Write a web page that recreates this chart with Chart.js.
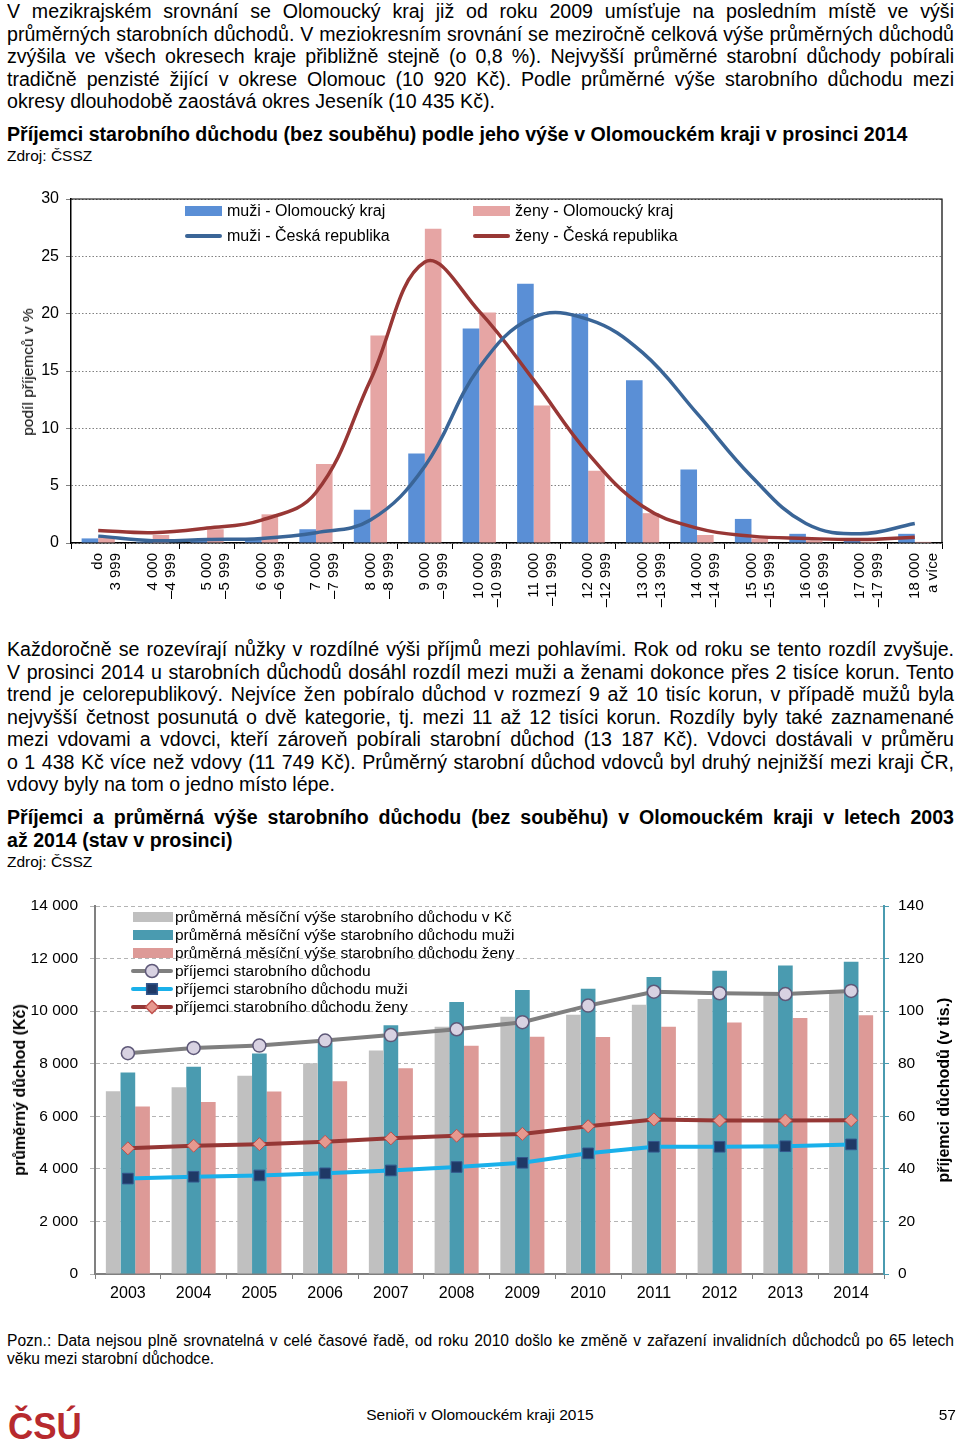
<!DOCTYPE html>
<html lang="cs">
<head>
<meta charset="UTF-8">
<title>Senioři v Olomouckém kraji 2015</title>
<script src="https://cdn.jsdelivr.net/npm/chart.js"></script>
<style>
    body {
        margin: 0;
        width: 960px;
        height: 1455px;
        position: relative;
        overflow: hidden;
        background: #fff;
        color: #000;
        font-family: "Liberation Sans", Arial, sans-serif;
    }

    .txt {
        position: absolute;
        left: 7px;
        width: 947px;
        font-size: 19.6px;
        line-height: 22.5px;
    }

    .txt span {
        display: block;
        text-align: justify;
        text-align-last: justify;
    }

    .txt span.last {
        text-align-last: left;
    }

    .bold {
        font-weight: bold;
        line-height: 23px;
    }

    .src {
        position: absolute;
        left: 7px;
        font-size: 15.5px;
    }

    .box {
        position: absolute;
        left: 0;
        width: 960px;
    }

    .rot {
        position: absolute;
        white-space: nowrap;
        transform: translate(-50%, -50%) rotate(-90deg);
    }

    .note {
        position: absolute;
        left: 7px;
        width: 947px;
        font-size: 15.6px;
        line-height: 18px;
    }

    .note span {
        display: block;
        text-align: justify;
        text-align-last: justify;
    }

    .note span.last {
        text-align-last: left;
    }

    .logo {
        position: absolute;
        left: 8px;
        top: 1406px;
        font-size: 36px;
        line-height: normal;
        font-weight: bold;
        color: #b72a2e;
        transform: scaleX(0.97);
        transform-origin: left top;
    }
</style>
</head>

<body>
    <div class="txt" style="top:0px">
        <span>V mezikrajském srovnání se Olomoucký kraj již od roku 2009 umísťuje na posledním místě ve výši</span>
        <span>průměrných starobních důchodů. V meziokresním srovnání se meziročně celková výše průměrných důchodů</span>
        <span>zvýšila ve všech okresech kraje přibližně stejně (o 0,8 %). Nejvyšší průměrné starobní důchody pobírali</span>
        <span>tradičně penzisté žijící v okrese Olomouc (10 920 Kč). Podle průměrné výše starobního důchodu mezi</span>
        <span class="last">okresy dlouhodobě zaostává okres Jeseník (10 435 Kč).</span>
    </div>

    <div class="txt bold" style="top:123px">
        <span class="last">Příjemci starobního důchodu (bez souběhu) podle jeho výše v Olomouckém kraji v prosinci 2014</span>
    </div>
    <div class="src" style="top:147px">Zdroj: ČSSZ</div>

    <div class="box" style="top:180px;height:430px"><canvas id="chart1"></canvas></div>
    <div class="rot" style="left:28px;top:372px;font-size:15.5px">podíl příjemců v %</div>

    <div class="txt" style="top:638px">
        <span>Každoročně se rozevírají nůžky v rozdílné výši příjmů mezi pohlavími. Rok od roku se tento rozdíl zvyšuje.</span>
        <span>V prosinci 2014 u starobních důchodů dosáhl rozdíl mezi muži a ženami dokonce přes 2 tisíce korun. Tento</span>
        <span>trend je celorepublikový. Nejvíce žen pobíralo důchod v rozmezí 9 až 10 tisíc korun, v případě mužů byla</span>
        <span>nejvyšší četnost posunutá o dvě kategorie, tj. mezi 11 až 12 tisíci korun. Rozdíly byly také zaznamenané</span>
        <span>mezi vdovami a vdovci, kteří zároveň pobírali starobní důchod (13 187 Kč). Vdovci dostávali v průměru</span>
        <span>o 1 438 Kč více než vdovy (11 749 Kč). Průměrný starobní důchod vdovců byl druhý nejnižší mezi kraji ČR,</span>
        <span class="last">vdovy byly na tom o jedno místo lépe.</span>
    </div>

    <div class="txt bold" style="top:806px">
        <span>Příjemci a průměrná výše starobního důchodu (bez souběhu) v Olomouckém kraji v letech 2003</span>
        <span class="last">až 2014 (stav v prosinci)</span>
    </div>
    <div class="src" style="top:853px">Zdroj: ČSSZ</div>

    <div class="box" style="top:890px;height:420px"><canvas id="chart2"></canvas></div>
    <div class="rot" style="left:20px;top:1090px;font-size:16px;font-weight:bold">průměrný důchod (Kč)</div>
    <div class="rot" style="left:944px;top:1090px;font-size:16px;font-weight:bold">příjemci důchodů (v tis.)</div>

    <div class="note" style="top:1332px">
        <span>Pozn.: Data nejsou plně srovnatelná v celé časové řadě, od roku 2010 došlo ke změně v zařazení invalidních důchodců po 65 letech</span>
        <span class="last">věku mezi starobní důchodce.</span>
    </div>

    <div class="logo">ČSÚ</div>
    <div style="position:absolute;top:1406px;left:0;width:960px;text-align:center;font-size:15.5px">Senioři v Olomouckém kraji 2015</div>
    <div style="position:absolute;top:1406px;right:4px;font-size:15.5px">57</div>

    <script>
        // graf 1 - rozdělení příjemců podle výše důchodu (%)
        const incomeBands = [
            ['do', '3 999'], ['4 000', '–4 999'], ['5 000', '–5 999'], ['6 000', '–6 999'],
            ['7 000', '–7 999'], ['8 000', '–8 999'], ['9 000', '–9 999'], ['10 000', '–10 999'],
            ['11 000', '–11 999'], ['12 000', '–12 999'], ['13 000', '–13 999'], ['14 000', '–14 999'],
            ['15 000', '–15 999'], ['16 000', '–16 999'], ['17 000', '–17 999'], ['18 000', 'a více']
        ];
        const menOlomouc = [0.4, 0.1, 0.2, 0.4, 1.2, 2.9, 7.8, 18.7, 22.6, 20.0, 14.2, 6.4, 2.1, 0.8, 0.2, 0.8];
        const womenOlomouc = [0.5, 0.7, 1.2, 2.5, 6.9, 18.1, 27.4, 20.1, 12.0, 6.3, 2.6, 0.7, 0.4, 0.2, 0.1, 0.1];
        const menCR = [0.6, 0.2, 0.3, 0.4, 0.9, 2.0, 6.7, 15.3, 19.7, 19.5, 16.6, 11.3, 5.8, 1.7, 0.8, 1.7];
        const womenCR = [1.1, 0.9, 1.3, 2.0, 4.4, 14.2, 24.5, 20.2, 14.2, 7.8, 3.2, 1.3, 0.6, 0.4, 0.3, 0.5];

        // graf 2 - vývoj 2003-2014
        const years = ['2003', '2004', '2005', '2006', '2007', '2008', '2009', '2010', '2011', '2012', '2013', '2014'];
        const avgPension = [6950, 7100, 7540, 8020, 8500, 9410, 9790, 9860, 10240, 10460, 10650, 10800];
        const avgPensionMen = [7670, 7880, 8390, 8870, 9460, 10350, 10800, 10850, 11300, 11540, 11740, 11880];
        const avgPensionWomen = [6370, 6540, 6940, 7330, 7830, 8680, 9030, 9020, 9410, 9570, 9740, 9840];
        const recipients = [84.0, 86.0, 86.9, 88.8, 90.9, 93.1, 95.8, 102.1, 107.4, 106.8, 106.5, 107.7];
        const recipientsMen = [36.3, 37.0, 37.5, 38.3, 39.4, 40.7, 42.3, 45.9, 48.4, 48.4, 48.6, 49.3];
        const recipientsWomen = [47.8, 48.8, 49.4, 50.3, 51.6, 52.6, 53.3, 56.2, 58.8, 58.4, 58.4, 58.5];

        const FONT = '"Liberation Sans", Arial, sans-serif';
        const fmt = v => String(v).replace(/\B(?=(\d{3})+(?!\d))/g, ' ');

        // legenda kreslena primo do grafu
        function drawLegend(chart, items) {
            const ctx = chart.ctx;
            ctx.save();
            items.forEach(it => {
                if (it.kind === 'bar') {
                    ctx.fillStyle = it.color;
                    ctx.fillRect(it.x, it.y - 5, it.w, 10);
                } else {
                    ctx.strokeStyle = it.color;
                    ctx.lineWidth = 4;
                    ctx.lineCap = 'round';
                    ctx.beginPath();
                    ctx.moveTo(it.x + 2, it.y);
                    ctx.lineTo(it.x + it.w - 2, it.y);
                    ctx.stroke();
                    if (it.point) {
                        ctx.fillStyle = it.point.bg;
                        ctx.strokeStyle = it.point.border;
                        ctx.lineWidth = 1.5;
                        Chart.helpers.drawPoint(ctx, { pointStyle: it.point.style, radius: it.point.r, rotation: 0, borderWidth: 1.5 }, it.x + it.w / 2, it.y);
                    }
                }
                ctx.fillStyle = '#000';
                ctx.font = it.font;
                ctx.textBaseline = 'middle';
                ctx.fillText(it.text, it.tx, it.y + 1);
            });
            ctx.restore();
        }

        const chart1 = new Chart(document.getElementById('chart1'), {
            type: 'bar',
            data: {
                labels: incomeBands,
                datasets: [
                    { type: 'line', label: 'muži - Česká republika', data: menCR, borderColor: '#3a6597', borderWidth: 3.5, pointRadius: 0, tension: 0.4, order: 0 },
                    { type: 'line', label: 'ženy - Česká republika', data: womenCR, borderColor: '#983735', borderWidth: 3.5, pointRadius: 0, tension: 0.4, order: 0 },
                    { label: 'muži - Olomoucký kraj', data: menOlomouc, backgroundColor: '#5a8fd6', order: 1 },
                    { label: 'ženy - Olomoucký kraj', data: womenOlomouc, backgroundColor: '#e6a5a4', order: 1 }
                ]
            },
            options: {
                responsive: true,
                maintainAspectRatio: false,
                animation: false,
                layout: { padding: { top: 19, right: 18, bottom: 0, left: 0 } },
                datasets: { bar: { categoryPercentage: 0.61, barPercentage: 1.0 } },
                plugins: { legend: { display: false }, tooltip: { enabled: false } },
                scales: {
                    x: {
                        grid: { drawOnChartArea: false, tickLength: 6, color: '#000' },
                        border: { color: '#000', width: 1.5 },
                        ticks: {
                            autoSkip: false, maxRotation: 90, minRotation: 90, padding: 4,
                            color: '#000', font: { family: FONT, size: 15 }
                        },
                        afterFit: s => { s.height = 67; }
                    },
                    y: {
                        min: 0, max: 30,
                        grid: { color: '#808080', tickLength: 5, lineWidth: 1 },
                        border: { color: '#000', width: 1.5, dash: [1.5, 2] },
                        ticks: { stepSize: 5, padding: 7, color: '#000', font: { family: FONT, size: 16 } },
                        afterFit: s => { s.width = 71; s.paddingTop = 0; }
                    }
                }
            },
            plugins: [{
                id: 'frameLegend1',
                afterDraw(chart) {
                    const { ctx, chartArea: a } = chart;
                    ctx.save();
                    ctx.strokeStyle = '#000';
                    ctx.lineWidth = 1.2;
                    ctx.beginPath();
                    ctx.moveTo(a.left, a.top);
                    ctx.lineTo(a.right, a.top);
                    ctx.lineTo(a.right, a.bottom);
                    ctx.stroke();
                    ctx.restore();
                    const f = '16px ' + FONT;
                    drawLegend(chart, [
                        { kind: 'bar', color: '#5a8fd6', x: 185, w: 37, y: 31, tx: 227, text: 'muži - Olomoucký kraj', font: f },
                        { kind: 'line', color: '#3a6597', x: 185, w: 37, y: 56, tx: 227, text: 'muži - Česká republika', font: f },
                        { kind: 'bar', color: '#e6a5a4', x: 473, w: 37, y: 31, tx: 515, text: 'ženy - Olomoucký kraj', font: f },
                        { kind: 'line', color: '#983735', x: 473, w: 37, y: 56, tx: 515, text: 'ženy - Česká republika', font: f }
                    ]);
                }
            }]
        });

        const totalPt = { style: 'circle', r: 6.5, bg: '#d8d2e2', border: '#5e5878' };
        const menPt = { style: 'rect', r: 7.5, bg: '#1f3966', border: '#33568c' };
        const womenPt = { style: 'rectRot', r: 6.5, bg: '#e6998f', border: '#c0504d' };

        const chart2 = new Chart(document.getElementById('chart2'), {
            type: 'bar',
            data: {
                labels: years,
                datasets: [
                    {
                        type: 'line', label: 'příjemci starobního důchodu', data: recipients, yAxisID: 'y1',
                        borderColor: '#7f7f7f', borderWidth: 4, pointStyle: totalPt.style, pointRadius: totalPt.r,
                        pointBackgroundColor: totalPt.bg, pointBorderColor: totalPt.border, pointBorderWidth: 1.5, order: 0
                    },
                    {
                        type: 'line', label: 'příjemci starobního důchodu muži', data: recipientsMen, yAxisID: 'y1',
                        borderColor: '#19b0ea', borderWidth: 4, pointStyle: menPt.style, pointRadius: menPt.r,
                        pointBackgroundColor: menPt.bg, pointBorderColor: menPt.border, pointBorderWidth: 1, order: 0
                    },
                    {
                        type: 'line', label: 'příjemci starobního důchodu ženy', data: recipientsWomen, yAxisID: 'y1',
                        borderColor: '#953735', borderWidth: 4, pointStyle: womenPt.style, pointRadius: womenPt.r,
                        pointBackgroundColor: womenPt.bg, pointBorderColor: womenPt.border, pointBorderWidth: 1, order: 0
                    },
                    { label: 'průměrná měsíční výše starobního důchodu v Kč', data: avgPension, backgroundColor: '#c0c0c0', order: 1 },
                    { label: 'průměrná měsíční výše starobního důchodu muži', data: avgPensionMen, backgroundColor: '#4a9bb0', order: 1 },
                    { label: 'průměrná měsíční výše starobního důchodu ženy', data: avgPensionWomen, backgroundColor: '#dd9a97', order: 1 }
                ]
            },
            options: {
                responsive: true,
                maintainAspectRatio: false,
                animation: false,
                layout: { padding: { top: 16, right: 0, bottom: 0, left: 0 } },
                datasets: { bar: { categoryPercentage: 0.67, barPercentage: 1.0 } },
                plugins: { legend: { display: false }, tooltip: { enabled: false } },
                scales: {
                    x: {
                        grid: { drawOnChartArea: false, tickLength: 5, color: '#808080' },
                        border: { color: '#808080', width: 2 },
                        ticks: { padding: 5, color: '#000', font: { family: FONT, size: 16 } },
                        afterFit: s => { s.height = 36; }
                    },
                    y: {
                        position: 'left',
                        min: 0, max: 14000,
                        grid: { color: '#b4b4b4', tickLength: 5, lineWidth: 1 },
                        border: { color: '#808080', width: 2, dash: [4, 3] },
                        ticks: { stepSize: 2000, padding: 12, color: '#000', font: { family: FONT, size: 15.5 }, callback: v => fmt(v) },
                        afterFit: s => { s.width = 95; s.paddingTop = 0; s.paddingBottom = 0; }
                    },
                    y1: {
                        position: 'right',
                        min: 0, max: 140,
                        grid: { drawOnChartArea: false, tickLength: 5, color: '#4a9bb0' },
                        border: { color: '#4a9bb0', width: 2 },
                        ticks: { stepSize: 20, padding: 9, color: '#000', font: { family: FONT, size: 15.5 } },
                        afterFit: s => { s.width = 76; s.paddingTop = 0; s.paddingBottom = 0; }
                    }
                }
            },
            plugins: [{
                id: 'legend2',
                afterDraw(chart) {
                    const f = '15.5px ' + FONT;
                    drawLegend(chart, [
                        { kind: 'bar', color: '#c0c0c0', x: 133, w: 40, y: 27, tx: 175, text: 'průměrná měsíční výše starobního důchodu v Kč', font: f },
                        { kind: 'bar', color: '#4a9bb0', x: 133, w: 40, y: 45, tx: 175, text: 'průměrná měsíční výše starobního důchodu muži', font: f },
                        { kind: 'bar', color: '#dd9a97', x: 133, w: 40, y: 63, tx: 175, text: 'průměrná měsíční výše starobního důchodu ženy', font: f },
                        { kind: 'line', color: '#7f7f7f', x: 131, w: 42, y: 81, tx: 175, text: 'příjemci starobního důchodu', font: f, point: totalPt },
                        { kind: 'line', color: '#19b0ea', x: 131, w: 42, y: 99, tx: 175, text: 'příjemci starobního důchodu muži', font: f, point: menPt },
                        { kind: 'line', color: '#953735', x: 131, w: 42, y: 117, tx: 175, text: 'příjemci starobního důchodu ženy', font: f, point: womenPt }
                    ]);
                }
            }]
        });
    </script>
</body>

</html>
